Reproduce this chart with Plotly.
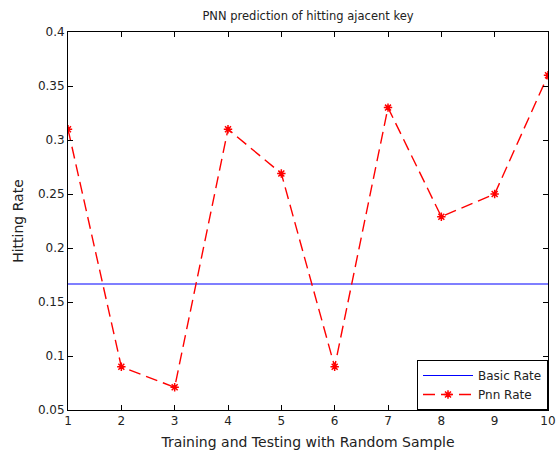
import plotly.graph_objects as go

samples = [1, 2, 3, 4, 5, 6, 7, 8, 9, 10]
pnn_rate = [0.31, 0.09, 0.071, 0.31, 0.269, 0.09, 0.33, 0.229, 0.25, 0.36]
basic_rate = [1/6] * len(samples)
y_ticks = [0.05, 0.1, 0.15, 0.2, 0.25, 0.3, 0.35, 0.4]
y_tick_labels = ["0.05", "0.1", "0.15", "0.2", "0.25", "0.3", "0.35", "0.4"]

font = dict(family="DejaVu Sans, sans-serif", size=12, color="#222222")

fig = go.Figure()
fig.add_trace(go.Scatter(x=samples, y=basic_rate, mode="lines", name="Basic Rate",
                         line=dict(color="#0000ff", width=1.2)))
fig.add_trace(go.Scatter(x=samples, y=pnn_rate, mode="lines+markers", name="Pnn Rate",
                         line=dict(color="#ff0000", width=1.4, dash="12px,6px"),
                         marker=dict(symbol="asterisk-open", size=7,
                                     line=dict(color="#ff0000", width=1.5))))

axis_common = dict(showline=True, linecolor="black", linewidth=1, mirror="ticks",
                   ticks="inside", ticklen=5, tickcolor="black", showgrid=False,
                   zeroline=False, tickfont=font, automargin=False)

fig.update_layout(
    width=560, height=452,
    margin=dict(l=68, r=12, t=32, b=42),
    paper_bgcolor="white", plot_bgcolor="white",
    font=font,
    title=dict(text="PNN prediction of hitting ajacent key", x=0.55, xanchor="center",
               y=0.965, yanchor="middle", font=dict(size=11.5), automargin=False),
    xaxis=dict(range=[1, 10], tickvals=samples,
               title=dict(text="Training and Testing with Random Sample", standoff=9),
               **axis_common),
    yaxis=dict(range=[0.05, 0.4], tickvals=y_ticks, ticktext=y_tick_labels,
               title=dict(text="Hitting Rate", standoff=10), **axis_common),
    showlegend=True,
    legend=dict(x=1, y=0, xanchor="right", yanchor="bottom", bordercolor="black",
                borderwidth=1, bgcolor="white", font=font, tracegroupgap=0,
                itemwidth=50),
)

fig.write_html("out.html", config={"displayModeBar": False},
               post_script="document.body.style.margin='0';")
